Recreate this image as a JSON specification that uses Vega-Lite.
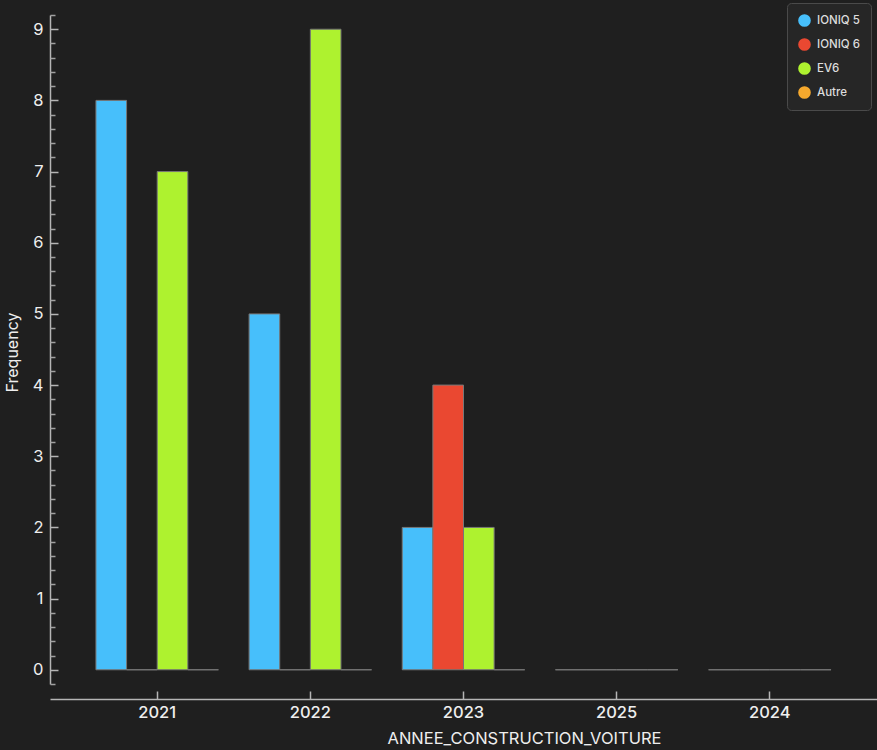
{
  "$schema": "https://vega.github.io/schema/vega-lite/v6.json",
  "width": 827,
  "height": 669,
  "autosize": {"type": "none"},
  "padding": {"left": 50, "top": 15, "right": 0, "bottom": 66},
  "background": "#1f1f1f",
  "config": {"view": {"stroke": null}, "font": "Inter"},
  "data": {
    "values": [
      {"annee": "2021", "modele": "IONIQ 5", "n": 8},
      {"annee": "2021", "modele": "IONIQ 6", "n": 0},
      {"annee": "2021", "modele": "EV6", "n": 7},
      {"annee": "2021", "modele": "Autre", "n": 0},
      {"annee": "2022", "modele": "IONIQ 5", "n": 5},
      {"annee": "2022", "modele": "IONIQ 6", "n": 0},
      {"annee": "2022", "modele": "EV6", "n": 9},
      {"annee": "2022", "modele": "Autre", "n": 0},
      {"annee": "2023", "modele": "IONIQ 5", "n": 2},
      {"annee": "2023", "modele": "IONIQ 6", "n": 4},
      {"annee": "2023", "modele": "EV6", "n": 2},
      {"annee": "2023", "modele": "Autre", "n": 0},
      {"annee": "2025", "modele": "IONIQ 5", "n": 0},
      {"annee": "2025", "modele": "IONIQ 6", "n": 0},
      {"annee": "2025", "modele": "EV6", "n": 0},
      {"annee": "2025", "modele": "Autre", "n": 0},
      {"annee": "2024", "modele": "IONIQ 5", "n": 0},
      {"annee": "2024", "modele": "IONIQ 6", "n": 0},
      {"annee": "2024", "modele": "EV6", "n": 0},
      {"annee": "2024", "modele": "Autre", "n": 0}
    ]
  },
  "layer": [
    {
      "mark": {"type": "bar", "stroke": "#777777", "strokeWidth": 1},
      "encoding": {
        "x": {
          "field": "annee", "type": "nominal",
          "scale": {"domain": ["2021", "2022", "2023", "2025", "2024"], "paddingInner": 0, "paddingOuter": 0.2},
          "axis": {
            "orient": "bottom", "offset": 15, "labelAngle": 0,
            "domainColor": "#b5b5b5", "domainWidth": 1.5,
            "tickColor": "#b5b5b5", "tickWidth": 1.5, "tickSize": -8,
            "labelColor": "#eeeeee", "labelFontSize": 16.5, "labelFontWeight": 500, "labelPadding": 13,
            "title": "ANNEE_CONSTRUCTION_VOITURE", "titleColor": "#eeeeee",
            "titleFontSize": 16.5, "titleFontWeight": "normal",
            "titleX": 474, "titleY": 39, "titleAlign": "center", "titleBaseline": "middle"
          }
        },
        "xOffset": {
          "field": "modele", "type": "nominal",
          "scale": {"domain": ["IONIQ 5", "IONIQ 6", "EV6", "Autre"], "paddingInner": 0, "paddingOuter": 0.5}
        },
        "y": {
          "field": "n", "type": "quantitative", "stack": null,
          "scale": {"domain": [-0.2, 9.2], "nice": false},
          "axis": {
            "orient": "left", "values": [0, 1, 2, 3, 4, 5, 6, 7, 8, 9],
            "grid": false, "domainColor": "#b5b5b5", "domainWidth": 1.5,
            "tickColor": "#b5b5b5", "tickWidth": 1.5, "tickSize": -8,
            "labelColor": "#eeeeee", "labelFontSize": 16.5, "labelPadding": 15,
            "title": "Frequency", "titleColor": "#eeeeee", "titleFontSize": 16,
            "titleFontWeight": "normal", "titleAngle": -90, "titleX": -38, "titleY": 337,
            "titleAlign": "center", "titleBaseline": "middle"
          }
        },
        "color": {
          "field": "modele", "type": "nominal",
          "scale": {"domain": ["IONIQ 5", "IONIQ 6", "EV6", "Autre"], "range": ["#47bffb", "#ea4831", "#aef22f", "#f6a92d"]},
          "legend": {
            "title": null, "orient": "none", "legendX": 737, "legendY": -12,
            "fillColor": "#262626", "strokeColor": "#4a4a4a", "cornerRadius": 4,
            "padding": 11, "symbolType": "circle", "symbolSize": 160, "symbolStrokeWidth": 0,
            "symbolOpacity": 1, "labelColor": "#dddddd", "labelFontSize": 11.5, "labelFontWeight": 500, "labelOffset": 6,
            "rowPadding": 11
          }
        }
      }
    },
    {
      "mark": {"type": "bar", "opacity": 0},
      "encoding": {
        "x": {"field": "annee", "type": "nominal"},
        "xOffset": {"field": "modele", "type": "nominal"},
        "y": {
          "field": "n", "type": "quantitative", "stack": null,
          "axis": {
            "orient": "left", "values": [-0.2, 0.2, 0.4, 0.6, 0.8, 1.2, 1.4, 1.6, 1.8, 2.2, 2.4, 2.6, 2.8, 3.2, 3.4, 3.6, 3.8, 4.2, 4.4, 4.6, 4.8, 5.2, 5.4, 5.6, 5.8, 6.2, 6.4, 6.6, 6.8, 7.2, 7.4, 7.6, 7.8, 8.2, 8.4, 8.6, 8.8, 9.2],
            "grid": false, "domain": false, "labels": false, "title": null,
            "tickColor": "#a0a0a0", "tickWidth": 1.5, "tickSize": -5
          }
        }
      }
    }
  ],
  "resolve": {"axis": {"y": "independent"}}
}
